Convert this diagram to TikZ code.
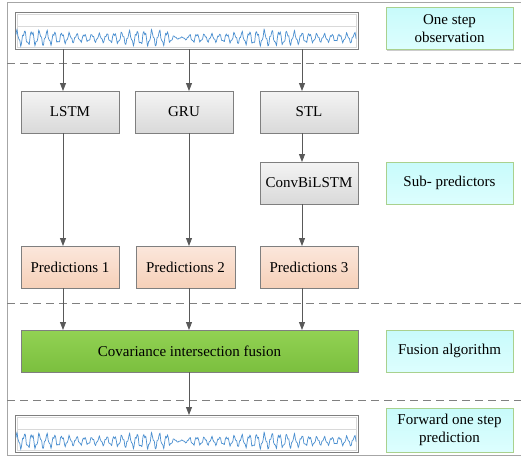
\documentclass[tikz,border=0pt]{standalone}
\usepackage{fontspec}
\setmainfont{Liberation Serif}
\usetikzlibrary{arrows.meta,shadows}
\definecolor{framegray}{HTML}{A6A6A6}
\definecolor{boxgray}{HTML}{7F7F7F}
\definecolor{dashgray}{HTML}{808080}
\definecolor{arrgray}{HTML}{595959}
\definecolor{wavecol}{HTML}{4A8FD0}
\definecolor{cyantop}{HTML}{C8FBFB}
\definecolor{cyanbot}{HTML}{DDFEFE}
\definecolor{cyanborder}{HTML}{A9D18E}
\definecolor{greytop}{HTML}{F4F4F4}
\definecolor{greybot}{HTML}{D9D9D9}
\definecolor{peachtop}{HTML}{FBE7DC}
\definecolor{peachbot}{HTML}{F6D0B8}
\definecolor{greentop}{HTML}{92D253}
\definecolor{greenbot}{HTML}{7BBF3E}
\newcommand\mywave[1]{\draw[wave] plot[domain=16:356, samples=360, smooth] (\x, {#1 + 38 - (6*sin(360*frac(\x*0.13333)) + 2.5*sin(360*frac(\x*0.36389)+40))*(0.8+0.25*sin(3*\x))*(1-0.85*max(0,1-((\x-180)/12)^2))});}
\begin{document}
\begin{tikzpicture}[x=1pt,y=-1pt,
  every node/.style={font=\fontsize{15}{18}\selectfont, inner sep=0pt, outer sep=0pt, align=center},
  basebox/.style={draw=boxgray, line width=0.8pt, drop shadow={shadow xshift=1.2pt,shadow yshift=-1.2pt,opacity=0.3,fill=black}},
  greybox/.style={basebox, top color=greytop, bottom color=greybot, minimum width=98pt, minimum height=42pt},
  predbox/.style={basebox, top color=peachtop, bottom color=peachbot, minimum width=98pt, minimum height=42pt},
  fusbox/.style={basebox, top color=greentop, bottom color=greenbot, minimum width=337pt, minimum height=42pt},
  labelbox/.style={draw=cyanborder, line width=0.8pt, top color=cyantop, bottom color=cyanbot, minimum width=127pt, minimum height=42pt, drop shadow={shadow xshift=1pt,shadow yshift=-1pt,opacity=0.2,fill=black}},
  wavebox/.style={draw=boxgray, line width=0.9pt, fill=white, minimum width=343pt, minimum height=37pt},
  wave/.style={draw=wavecol, line width=0.7pt},
  sep/.style={draw=dashgray, line width=0.8pt, dash pattern=on 8pt off 5pt},
  arr/.style={draw=arrgray, line width=0.8pt, -{Triangle[length=8pt,width=6pt]}}]
\useasboundingbox (0,0) rectangle (521,459);
% outer frame
\draw[framegray, line width=1pt] (530,2) -- (7,2) -- (7,455) -- (530,455);
% separators
\draw[sep] (7,63) -- (521,63);
\draw[sep] (7,303) -- (521,303);
\draw[sep] (7,400) -- (521,400);
% arrow columns
\coordinate (c1) at (63,0);
\coordinate (c2) at (189,0);
\coordinate (c3) at (302,0);
% waveform boxes
\node[wavebox] (w1) at (186.5,30.5) {};
\draw[black!15, line width=0.6pt] (17,14) rectangle (356,47);
\draw[black!15, line width=0.6pt] (17,26) -- (356,26);
\mywave{0}
\node[wavebox] (w2) at (186.5,433.5) {};
\draw[black!15, line width=0.6pt] (17,417) rectangle (356,450);
\draw[black!15, line width=0.6pt] (17,429) -- (356,429);
\mywave{403}
% label boxes
\node[labelbox] (obs) at (449.5,28.5) {One step\\observation};
\node[labelbox] (sub) at (449.5,183) {Sub- predictors};
\node[labelbox] (fal) at (449.5,351) {Fusion algorithm};
\node[labelbox, minimum height=44pt] (fwd) at (449.5,430) {Forward one step\\prediction};
% models
\node[greybox] (lstm) at (70,112) {LSTM};
\node[greybox] (gru) at (184,112) {GRU};
\node[greybox] (stl) at (309,112) {STL};
\node[greybox] (conv) at (309,183) {ConvBiLSTM};
% predictions
\node[predbox] (p1) at (70,267) {Predictions 1};
\node[predbox, minimum width=99pt] (p2) at (185.5,267) {Predictions 2};
\node[predbox] (p3) at (309,267) {Predictions 3};
% fusion
\node[fusbox] (fus) at (189.5,351) {Covariance intersection fusion};
% arrows
\draw[arr] (w1.south -| c1) -- (lstm.north -| c1);
\draw[arr] (w1.south -| c2) -- (gru.north -| c2);
\draw[arr] (w1.south -| c3) -- (stl.north -| c3);
\draw[arr] (stl.south -| c3) -- (conv.north -| c3);
\draw[arr] (conv.south -| c3) -- (p3.north -| c3);
\draw[arr] (lstm.south -| c1) -- (p1.north -| c1);
\draw[arr] (gru.south -| c2) -- (p2.north -| c2);
\draw[arr] (p1.south -| c1) -- (fus.north -| c1);
\draw[arr] (p2.south -| c2) -- (fus.north -| c2);
\draw[arr] (p3.south -| c3) -- (fus.north -| c3);
\draw[arr] (fus.south -| c2) -- (w2.north -| c2);
\end{tikzpicture}
\end{document}
